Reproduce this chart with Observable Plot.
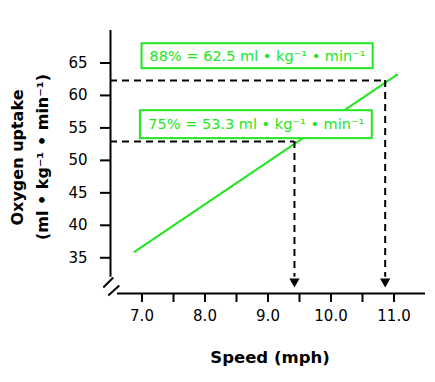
<!DOCTYPE html>
<html>
<head>
<meta charset="utf-8">
<script src="https://cdn.jsdelivr.net/npm/d3@7"></script>
<script src="https://cdn.jsdelivr.net/npm/@observablehq/plot@0.6"></script>
<style>
  body { margin: 0; background: #fff; }
  #chart svg { display: block; }
</style>
</head>
<body>
<div id="chart"></div>
<script>
// ---- data ----
const lineSpeed = [6.88, 11.05];          // mph
const lineOxygen = [35.9, 63.2];          // ml·kg-1·min-1
const markerSpeed = [9.42, 10.86];        // mph where the dashed guides drop
const markerOxygen = [52.9, 62.3];        // oxygen uptake of the dashed guides
const markerLabels = ["75% = 53.3 ml • kg⁻¹ • min⁻¹", "88% = 62.5 ml • kg⁻¹ • min⁻¹"];
const xTicks = [7, 7.5, 8, 8.5, 9, 9.5, 10, 10.5, 11];
const xTickLabels = ["7.0", "8.0", "9.0", "10.0", "11.0"];
const yTicks = [35, 40, 45, 50, 55, 60, 65];
const xTitle = "Speed (mph)";
const yTitle1 = "Oxygen uptake";
const yTitle2 = "(ml • kg⁻¹ • min⁻¹)";

// ---- tables built from the arrays ----
const lineData = lineSpeed.map((s, i) => ({speed: s, oxygen: lineOxygen[i]}));
const markers = markerSpeed.map((s, i) => ({speed: s, oxygen: markerOxygen[i], label: markerLabels[i]}));

// annotation layout (label boxes), in data units
const boxLayout = [
  {x1: 6.975, x2: 10.655, y1: 53.35, y2: 57.65, cx: 8.815, cy: 55.5},
  {x1: 7.0, x2: 10.67, y1: 64.12, y2: 67.96, cx: 8.835, cy: 66.04}
];
const boxes = markers.map((m, i) => ({...m, ...boxLayout[i]}));

// axis-break decoration, in data units
const breakMarks = [
  {x1: 6.386, y1: 30.42, x2: 6.544, y2: 31.96},
  {x1: 6.465, y1: 29.19, x2: 6.64, y2: 30.73}
];

const GREEN = "#22e622";
const FONT = "DejaVu Sans, Verdana, sans-serif";

const chart = Plot.plot({
  width: 435,
  height: 382,
  marginLeft: 110,
  marginRight: 10,
  marginTop: 30,
  marginBottom: 89,
  style: {fontFamily: FONT, fontSize: "15px", color: "#000", background: "#fff"},
  x: {domain: [6.5, 11.5]},
  y: {domain: [29.5, 70]},
  marks: [
    // axes lines
    Plot.ruleX([6.5], {y1: 32, y2: 70, stroke: "#000", strokeWidth: 2}),
    Plot.ruleY([29.5], {x1: 6.61, x2: 11.5, stroke: "#000", strokeWidth: 2}),
    Plot.link(breakMarks, {x1: "x1", y1: "y1", x2: "x2", y2: "y2", stroke: "#000", strokeWidth: 2}),
    Plot.axisY({
      ticks: yTicks, tickSize: 10, tickPadding: 13, strokeWidth: 2,
      fontSize: 15, label: null
    }),
    Plot.axisX({
      ticks: xTicks, tickSize: 9, tickPadding: 8, strokeWidth: 2, fontSize: 15, label: null,
      tickFormat: d => Number.isInteger(d) ? xTickLabels[d - 7] : ""
    }),
    // regression line
    Plot.line(lineData, {x: "speed", y: "oxygen", stroke: GREEN, strokeWidth: 2}),
    // dashed guides
    Plot.ruleY(markers, {y: "oxygen", x1: 6.5, x2: "speed", stroke: "#000", strokeWidth: 2, strokeDasharray: "7,5"}),
    Plot.ruleX(markers, {x: "speed", y1: "oxygen", y2: 32.0, stroke: "#000", strokeWidth: 2, strokeDasharray: "7,5"}),
    Plot.dot(markers, {x: "speed", y: 31.35, symbol: "triangle", rotate: 180, r: 3.8, fill: "#000", stroke: null}),
    // label boxes
    Plot.rect(boxes, {x1: "x1", x2: "x2", y1: "y1", y2: "y2", fill: "#fff", stroke: GREEN, strokeWidth: 2}),
    Plot.text(boxes, {x: "cx", y: "cy", text: "label", fill: GREEN, fontSize: 14.5, fontFamily: FONT}),
    // titles
    Plot.text([xTitle], {text: d => d, frameAnchor: "bottom", textAnchor: "middle", lineAnchor: "middle", dx: 2, dy: 64, fontWeight: "bold", fontSize: 16.5, fill: "#000"}),
    Plot.text([yTitle1], {text: d => d, frameAnchor: "left", textAnchor: "middle", lineAnchor: "middle", rotate: -90, dx: -93, dy: -4.5, fontWeight: "bold", fontSize: 16, fill: "#000"}),
    Plot.text([yTitle2], {text: d => d, frameAnchor: "left", textAnchor: "middle", lineAnchor: "middle", rotate: -90, dx: -68, dy: -5, fontWeight: "bold", fontSize: 16, fill: "#000"})
  ]
});
document.getElementById("chart").appendChild(chart);
</script>
</body>
</html>
